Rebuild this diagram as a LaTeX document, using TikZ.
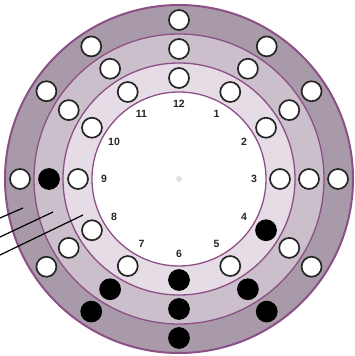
\documentclass[tikz,border=0pt]{standalone}
\usepackage{fontspec}
\setmainfont{Liberation Sans}
\definecolor{bandA}{RGB}{168,154,168}
\definecolor{bandB}{RGB}{202,191,202}
\definecolor{bandC}{RGB}{230,220,230}
\definecolor{edge}{RGB}{140,80,135}
\tikzset{
  hole/.style={circle,draw=black!85,line width=1.7pt,fill=white,minimum size=20pt,inner sep=0pt},
  pin/.style={circle,draw=black,line width=1.7pt,fill=black,minimum size=20pt,inner sep=0pt},
  num/.style={font=\fontsize{10.5}{11}\selectfont\bfseries,text=black!85,inner sep=0pt},
  ring/.style={draw=edge,line width=1.3pt},
  leader/.style={draw=black,line width=1.2pt}
}
\begin{document}
\begin{tikzpicture}[x=1pt,y=1pt]
\useasboundingbox (-179,-177) rectangle (176,179);
% bands
\fill[bandA] (0,0) circle (174);
\fill[bandB] (0,0) circle (145);
\fill[bandC] (0,0) circle (116);
\fill[white] (0,0) circle (87);
\draw[draw=edge,line width=2pt] (0,0) circle (174);
\draw[ring] (0,0) circle (145);
\draw[ring] (0,0) circle (116);
\draw[ring] (0,0) circle (87);
% centre mark
\fill[black!12] (0,0) circle (3);
% hour numbers
\foreach \h in {1,...,12}{
  \node[num] (n\h) at ({90-30*\h}:75) {\h};
}
% rings: name / radius / offset / list of black hours
\foreach \r/\rad/\d/\blk in {o/159/3.5/{5,6,7}, m/130/2/{5,6,7,9}, i/101/0.5/{4,6}}{
  \foreach \h in {1,...,12}{
    \pgfmathsetmacro\ang{90-30*\h-\d*(mod(\h,3)==1)+\d*(mod(\h,3)==2)}
    \def\sty{hole}
    \foreach \b in \blk {\ifnum\b=\h\global\def\sty{pin}\fi}
    \node[\sty] (\r\h) at (\ang:\rad) {};
    \global\def\sty{hole}
  }
}
% leader lines
\coordinate (la) at (-179,-39);
\coordinate (lb) at (-179,-58);
\coordinate (lc) at (-179,-76);
\coordinate (ea) at (-156,-29);
\coordinate (eb) at (-126,-33);
\coordinate (ec) at (-96,-36);
\draw[leader] (la) -- (ea);
\draw[leader] (lb) -- (eb);
\draw[leader] (lc) -- (ec);
\end{tikzpicture}
\end{document}
